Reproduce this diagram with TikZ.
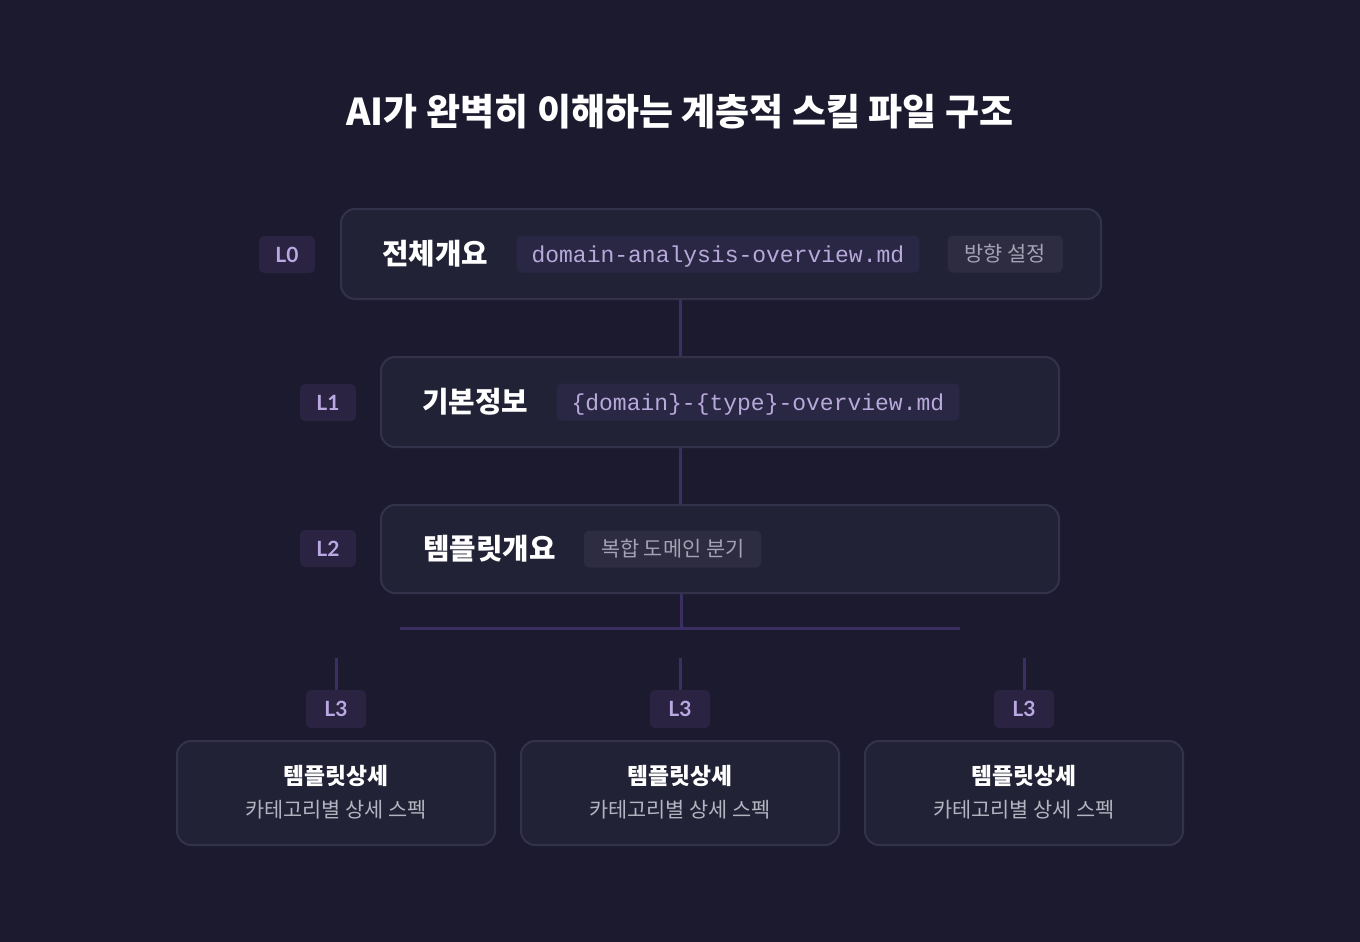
\documentclass[tikz,border=0pt]{standalone}
\usepackage{fontspec}
\setmainfont{Noto Sans CJK KR}
\setmonofont{Liberation Mono}
\newfontfamily\badgefont{Lato}
\usetikzlibrary{positioning}
\definecolor{bg}{HTML}{1B1A2E}
\definecolor{cardfill}{HTML}{222236}
\definecolor{cardline}{HTML}{33324A}
\definecolor{badgefill}{HTML}{2A2342}
\definecolor{badgetext}{HTML}{B9A8E2}
\definecolor{linkcol}{HTML}{3A2E62}
\definecolor{codefill}{HTML}{2A2745}
\definecolor{codetext}{HTML}{B7A9D9}
\definecolor{tagfill}{HTML}{2D2C40}
\definecolor{tagtext}{HTML}{A3A3B3}
\definecolor{subtext}{HTML}{B4B4C0}
\tikzset{card/.style={rectangle, rounded corners=14pt, draw=cardline, line width=2pt, fill=cardfill}}
\tikzset{badge/.style={rectangle, rounded corners=5pt, fill=badgefill, text=badgetext,
   minimum width=56pt, minimum height=37pt, inner sep=0pt,
   font=\fontsize{21}{24}\selectfont\badgefont\bfseries}}
\tikzset{head/.style={inner sep=0pt, text=white, font=\fontsize{28.8}{32}\selectfont\bfseries}}
\tikzset{code/.style={rectangle, rounded corners=5pt, fill=codefill, text=codetext,
   inner xsep=15pt, inner ysep=0pt, minimum height=37pt, text height=20pt, text depth=3pt,
   font=\fontsize{23}{26}\selectfont\ttfamily}}
\tikzset{tag/.style={rectangle, rounded corners=5pt, fill=tagfill, text=tagtext,
   inner xsep=17pt, inner ysep=0pt, minimum height=37pt,
   font=\fontsize{20.8}{24}\selectfont}}
\tikzset{link/.style={draw=linkcol, line width=3pt}}
\tikzset{ctitle/.style={inner sep=0pt, text=white, font=\fontsize{22.8}{26}\selectfont\bfseries}}
\tikzset{csub/.style={inner sep=0pt, text=subtext, font=\fontsize{20.8}{24}\selectfont}}

\begin{document}
\begin{tikzpicture}[x=1pt, y=-1pt, node distance=28pt]

    \fill[bg] (0,0) rectangle (1360,942);

    \node[text=white, font=\fontsize{37}{42}\selectfont\bfseries] (ttl) at (680,112) {AI가 완벽히 이해하는 계층적 스킬 파일 구조};

    \coordinate (spine) at (680,0);

    \node[card, minimum width=760pt, minimum height=90pt] (c0) at (721,254) {};
    \node[badge] (b0) at (287,254.5) {L0};
    \node[head, anchor=west] (t0) at (382,254) {전체개요};
    \node[code, right=of t0] (f0) {domain-analysis-overview.md};
    \node[tag, right=of f0] (g0) {방향 설정};

    \node[card, minimum width=678pt, minimum height=90pt] (c1) at (720,402) {};
    \node[badge] (b1) at (328,402.5) {L1};
    \node[head, anchor=west] (t1) at (422,402) {기본정보};
    \node[code, right=of t1] (f1) {\{domain\}-\{type\}-overview.md};

    \node[card, minimum width=678pt, minimum height=88pt] (c2) at (720,549) {};
    \node[badge] (b2) at (328,548.5) {L2};
    \node[head, anchor=west] (t2) at (423,549) {템플릿개요};
    \node[tag, right=of t2] (g2) {복합 도메인 분기};

    \draw[link] (c0.south -| spine) -- (c1.north -| spine);
    \draw[link] (c1.south -| spine) -- (c2.north -| spine);

    \coordinate (bus) at (681,628);
    \coordinate (busl) at (400,628);
    \coordinate (busr) at (960,628);
    \draw[link] (c2.south -| bus) -- (bus);
    \draw[link] (busl) -- (busr);

    \foreach \n/\x in {a/336, b/680, c/1024} {
      \coordinate (s\n) at (\x,658);
      \node[badge, minimum width=60pt, minimum height=38pt] (b3\n) at (\x,709) {L3};
      \draw[link] (s\n) -- (b3\n.north);
      \node[card, minimum width=318pt, minimum height=104pt] (c3\n) at (\x,793) {};
      \node[ctitle] (h3\n) at (\x,776) {템플릿상세};
      \node[csub] (d3\n) at (\x,810) {카테고리별 상세 스펙};
    }

  \end{tikzpicture}
\end{document}
